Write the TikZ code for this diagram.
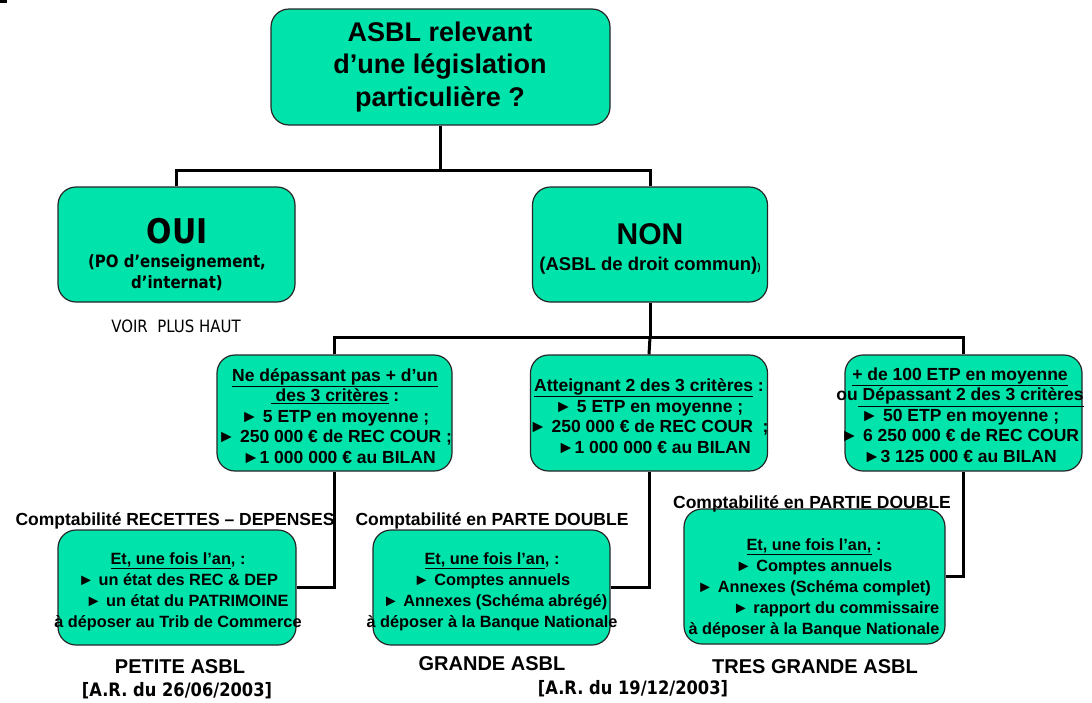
\documentclass[tikz,border=0pt]{standalone}
\usepackage{fontspec}
\setmainfont{Liberation Sans}
\newfontfamily\vfont[FakeStretch=0.88]{DejaVu Sans}
\definecolor{mint}{RGB}{0,227,170}
\begin{document}
\begin{tikzpicture}[x=1pt,y=-1pt,
  box/.style={draw=black!85, line width=1.2pt, fill=mint, rounded corners=18pt, inner sep=0pt},
  conn/.style={draw=black, line width=3pt},
  txt/.style={inner sep=0pt, align=center, font=\bfseries},
  fA/.style={font=\bfseries\fontsize{27}{32.5}\selectfont},
  fC/.style={font=\bfseries\fontsize{17.5}{20.5}\selectfont},
  fB/.style={font=\bfseries\fontsize{16.3}{21}\selectfont},
  fT/.style={font=\bfseries\fontsize{20}{24}\selectfont},
  fV/.style={font=\vfont\bfseries\fontsize{18.5}{22}\selectfont}
]
\useasboundingbox (0,0) rectangle (1092,702);
\fill[black] (0,0) rectangle (7,3);

% boxes
\node[box, minimum width=339, minimum height=116] (top) at (440.5,67) {};
\node[box, minimum width=237, minimum height=115] (oui) at (176.5,244.5) {};
\node[box, minimum width=235, minimum height=115] (non) at (650,244.5) {};
\node[box, minimum width=235, minimum height=116] (c1) at (334.5,413) {};
\node[box, minimum width=237, minimum height=116] (c2) at (649,413) {};
\node[box, minimum width=237, minimum height=116] (c3) at (963.5,413) {};
\node[box, minimum width=238, minimum height=115] (b1) at (177,587.5) {};
\node[box, minimum width=237, minimum height=115] (b2) at (491.5,587.5) {};
\node[box, minimum width=261, minimum height=135] (b3) at (814.5,576.5) {};

% connectors
\coordinate (j1) at (440.5,170);
\coordinate (j2) at (650,337);
\draw[conn] (top.south) -- (j1);
\draw[conn] (oui.north) |- (j1) -| (non.north);
\draw[conn] (non.south) -- (j2);
\draw[conn] (c1.north) |- (j2) -| (c3.north);
\draw[conn] (j2) -- (c2.north);
\draw[conn] (c1.south) |- (b1.east);
\draw[conn] (c2.south) |- (b2.east);
\draw[conn] (c3.south) |- (b3.east);

% texts
\node[txt, fA] (topT) at (440,67) {ASBL relevant\\d’une législation\\particulière ?};
\node[txt, font=\vfont\bfseries\fontsize{34}{36}\selectfont] (ouiT) at (177,231) {OUI};
\node[txt, font=\vfont\bfseries\fontsize{17}{21}\selectfont] (ouiS) at (177,273) {(PO d’enseignement,\\d’internat)};
\node[inner sep=0pt, font=\vfont\fontsize{17}{20}\selectfont] (voir) at (176,326) {VOIR\ \ PLUS HAUT};
\node[txt, font=\bfseries\fontsize{30}{34}\selectfont] (nonT) at (650,234) {NON};
\node[txt, font=\bfseries\fontsize{18.5}{22}\selectfont] (nonS) at (650,266) {(ASBL de droit commun){\fontsize{10}{12}\selectfont)}};

\node[txt, fC] (c1T) at (335,416) {\underline{Ne dépassant pas + d’un}\\\underline{\ des 3 critères} :\\► 5 ETP en moyenne ;\\► 250 000 € de REC COUR ;\\\hspace*{8pt}►1 000 000 € au BILAN};
\node[txt, fC] (c2T) at (649,416) {\underline{Atteignant 2 des 3 critères} :\\► 5 ETP en moyenne ;\\► 250 000 € de REC COUR\ \ ;\\\hspace*{10pt}►1 000 000 € au BILAN};
\node[txt, fC] (c3T) at (960,415) {\underline{+ de 100 ETP en moyenne}\\ou\underline{\ Dépassant 2 des 3 critères}\\► 50 ETP en moyenne ;\\► 6 250 000 € de REC COUR\\►3 125 000 € au BILAN};

\node[txt, fC] (lab1) at (175,521) {Comptabilité RECETTES – DEPENSES};
\node[txt, fC] (lab2) at (492,521) {Comptabilité en PARTE DOUBLE};
\node[txt, fC] (lab3) at (812,504) {Comptabilité en PARTIE DOUBLE};

\node[txt, fB] (b1T) at (178,592) {\underline{Et, une fois l’an}, :\\► un état des REC \& DEP\\\hspace*{18pt}► un état du PATRIMOINE\\à déposer au Trib de Commerce};
\node[txt, fB] (b2T) at (492,592) {\underline{Et, une fois l’an}, :\\► Comptes annuels\\\hspace*{6pt}► Annexes (Schéma abrégé)\\à déposer à la Banque Nationale};
\node[txt, fB] (b3T) at (814,588) {\underline{Et, une fois l’an,} :\\► Comptes annuels\\► Annexes (Schéma complet)\\\hspace*{44pt}► rapport du commissaire\\à déposer à la Banque Nationale};

\node[txt, fT] (petite) at (180,667) {PETITE ASBL};
\node[txt, fV] (ar1) at (177,691) {[A.R. du 26/06/2003]};
\node[txt, fT] (grande) at (492,664) {GRANDE ASBL};
\node[txt, fV] (ar2) at (633,689) {[A.R. du 19/12/2003]};
\node[txt, fT] (tres) at (815,667) {TRES GRANDE ASBL};
\end{tikzpicture}
\end{document}
